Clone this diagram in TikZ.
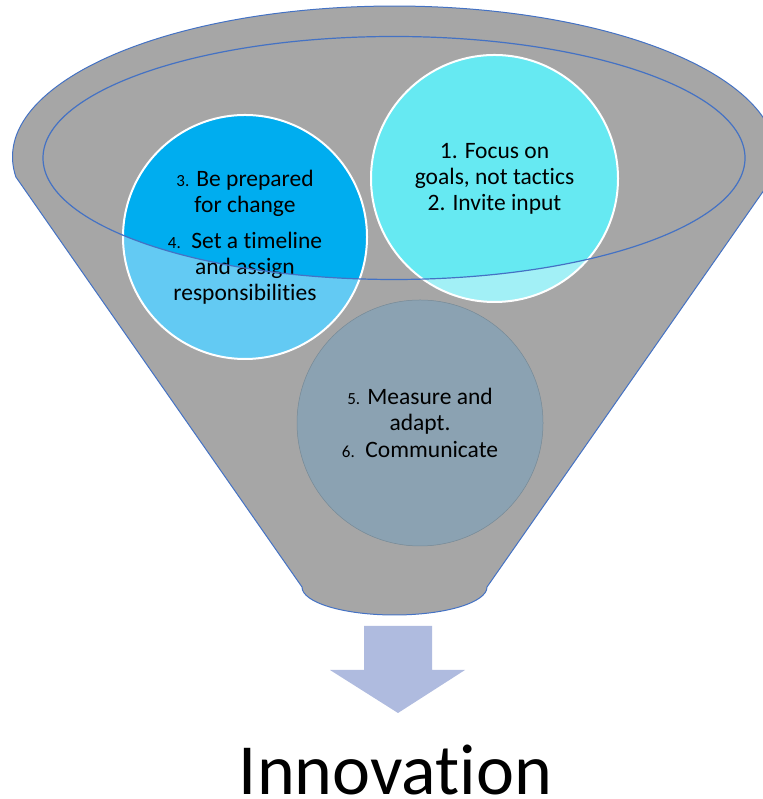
\documentclass[tikz,border=0pt]{standalone}
\usepackage{fontspec}
\setmainfont{Carlito}[Ligatures=NoCommon]
\definecolor{funnelgray}{HTML}{A6A6A6}
\definecolor{rimblue}{HTML}{4472C4}
\definecolor{bluedark}{HTML}{00ADEF}
\definecolor{bluelight}{HTML}{63CAF3}
\definecolor{cyandark}{HTML}{66E9F2}
\definecolor{cyanlight}{HTML}{A2F0F6}
\definecolor{slate}{HTML}{8BA2B2}
\definecolor{arrowblue}{HTML}{AFBBDF}
\newcommand{\smallnum}[1]{{\fontsize{17}{17}\selectfont #1}}

\begin{document}
\begin{tikzpicture}[x=1pt, y=1pt,
    bubble/.style={circle, minimum size=#1, inner sep=0pt, align=center,
        font=\fontsize{23.5}{26}\selectfont},
    rim/.style={draw=rimblue, line width=1pt}]
    \useasboundingbox (0,0) rectangle (762,799);
    \coordinate (ec) at (394,641);
    \filldraw[fill=funnelgray, rim] (15.9,622)
        arc[start angle=187.6, end angle=-7.6, x radius=382pt, y radius=151pt]
        -- (487,212)
        arc[start angle=0, end angle=-180, x radius=92.5pt, y radius=28pt] -- cycle;
    \node[bubble=246pt, fill=slate, draw=slate!85!black, line width=0.5pt] (adapt) at (420,376)
        {\smallnum{5.} Measure and\\adapt.\\[1pt]\smallnum{6.}\ \ Communicate};
    \node[bubble=244pt, fill=bluelight, draw=white, line width=2pt,
        path picture={\fill[bluedark] (ec) ellipse[x radius=351pt, y radius=121.5pt];}] (prep) at (245,562)
        {\smallnum{3.} Be prepared\\for change\\[10pt]\smallnum{4.}\ \ Set a timeline\\and assign\\responsibilities};
    \node[bubble=247pt, fill=cyanlight, draw=white, line width=2pt,
        path picture={\fill[cyandark] (ec) ellipse[x radius=351pt, y radius=121.5pt];}] (goals) at (494.5,620.5)
        {1. Focus on\\goals, not tactics\\2. Invite input};
    \draw[rim, line width=1.2pt] (ec) ellipse[x radius=351pt, y radius=121.5pt];
    \fill[arrowblue] (364,173) -- (432,173) -- (432,129) -- (465,129) -- (398,86)
        -- (330,129) -- (364,129) -- cycle;
    \node[font=\fontsize{72}{80}\selectfont, anchor=base, inner sep=0pt] (innov) at (395.5,5) {Innovation};
\end{tikzpicture}
\end{document}
